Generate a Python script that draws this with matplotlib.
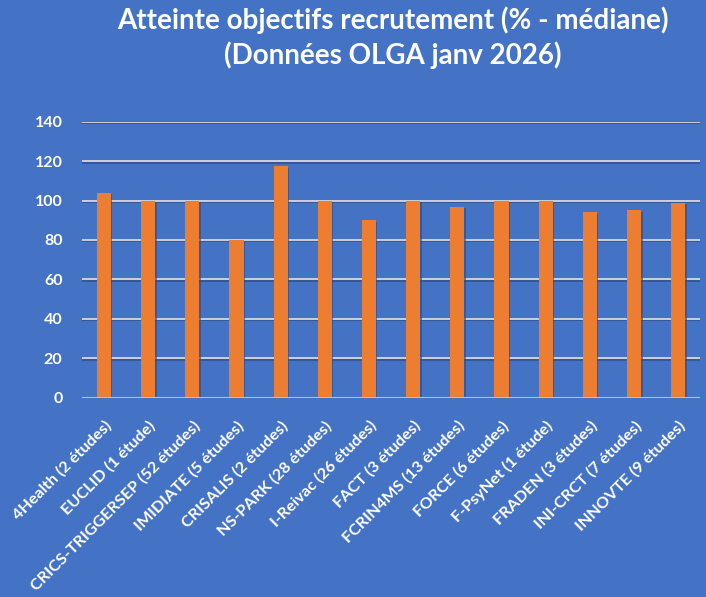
import matplotlib.pyplot as plt
import matplotlib.patheffects as pe

# données
reseaux = ['4Health (2 études)', 'EUCLID (1 étude)', 'CRICS-TRIGGERSEP (52 études)',
           'IMIDIATE (5 études)', 'CRISALIS (2 études)', 'NS-PARK (28 études)',
           'I-Reivac (26 études)', 'FACT (3 études)', 'FCRIN4MS (13 études)',
           'FORCE (6 études)', 'F-PsyNet (1 étude)', 'FRADEN (3 études)',
           'INI-CRCT (7 études)', 'INNOVTE (9 études)']
atteinte = [104, 100, 100, 80, 117.5, 100, 90, 100, 97, 100, 100, 94, 95, 99]
yticks = [0, 20, 40, 60, 80, 100, 120, 140]

bleu = '#4472C4'
orange = '#ED7D31'
plt.rcParams['font.family'] = ['Lato', 'DejaVu Sans']

fig = plt.figure(figsize=(7.06, 5.97), dpi=100, facecolor=bleu)
ax = fig.add_axes([0.116, 0.334, 0.876, 0.462])
ax.set_facecolor(bleu)

ombre = [pe.SimpleLineShadow(offset=(0, -1), shadow_color='#2F4F8A', alpha=0.8), pe.Normal()]
for v in yticks[1:]:
    ax.axhline(v, color='#D9D9D9', lw=1.3, zorder=1, path_effects=ombre)
ax.axhline(0, color='#BFBFBF', lw=1.5, zorder=3, path_effects=ombre)

x = range(len(reseaux))
ax.bar(x, atteinte, width=0.32, color=orange, zorder=2,
       path_effects=[pe.SimplePatchShadow(offset=(1, -1), shadow_rgbFace='#2F4F8A', alpha=0.7), pe.Normal()])

ax.set_xlim(-0.5, len(reseaux) - 0.5)
ax.set_ylim(0, 140)
ax.set_yticks(yticks)
ax.set_yticklabels([str(v) for v in yticks], color='white', fontsize=11.5, fontweight='bold')
ax.set_xticks(list(x))
ax.set_xticklabels(reseaux, rotation=45, ha='right', va='top', rotation_mode='anchor',
                   color='white', fontsize=11.7, fontweight='bold')
ax.tick_params(axis='y', length=0, pad=14)
ax.tick_params(axis='x', length=0, pad=15)
for s in ax.spines.values():
    s.set_visible(False)

fig.text(0.556, 0.966, 'Atteinte objectifs recrutement (% - médiane)', ha='center', va='center',
         color='white', fontsize=20, fontweight='bold')
fig.text(0.556, 0.908, '(Données OLGA janv 2026)', ha='center', va='center',
         color='white', fontsize=20, fontweight='bold')

fig.savefig('out.png', dpi=100, facecolor=bleu)
